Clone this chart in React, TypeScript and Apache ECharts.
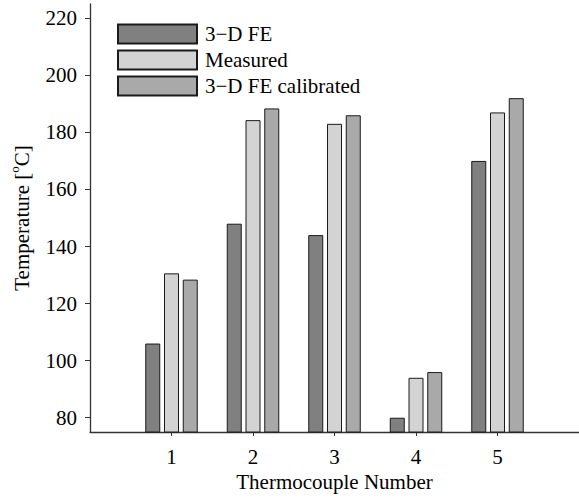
import React, { useEffect, useRef } from "react";
import * as echarts from "echarts";

const categories = [1, 2, 3, 4, 5];
const seriesNames = ["3\u2212D FE", "Measured", "3\u2212D FE calibrated"];
const fe3d = [106, 148, 144, 80, 170];
const measured = [130.6, 184.3, 183, 94, 187];
const calibrated = [128.4, 188.4, 186, 96, 192];
const yTicks = [80, 100, 120, 140, 160, 180, 200, 220];
const colors = ["#808080", "#d3d3d3", "#a9a9a9"];

const FONT = "Liberation Serif";
const FS = 21;

export default function App() {
  const ref = useRef<HTMLDivElement>(null);
  useEffect(() => {
    if (!ref.current) return;
    const chart = echarts.init(ref.current, null, { renderer: "svg" });
    const values = [fe3d, measured, calibrated];
    chart.setOption({
      animation: false,
      backgroundColor: "#ffffff",
      textStyle: { fontFamily: FONT },
      grid: { left: 89.5, top: 4, width: 495, height: 428 },
      legend: {
        orient: "vertical",
        left: 117,
        top: 23.5,
        padding: 0,
        itemWidth: 79,
        itemHeight: 19,
        itemGap: 5,
        icon: "rect",
        textStyle: { fontFamily: FONT, fontSize: FS, color: "#000", padding: [0, 0, 0, 3] },
        data: seriesNames,
      },
      xAxis: {
        type: "value",
        min: 0,
        max: 6,
        interval: 1,
        name: "Thermocouple Number",
        nameLocation: "middle",
        nameGap: 37,
        nameTextStyle: { fontFamily: FONT, fontSize: FS, color: "#000" },
        axisLine: { show: true, onZero: false, lineStyle: { color: "#333", width: 1.3 } },
        axisTick: { show: true, length: 4, customValues: categories, lineStyle: { color: "#333" } },
        axisLabel: { customValues: categories, margin: 14, fontFamily: FONT, fontSize: FS, color: "#000" },
        splitLine: { show: false },
      },
      yAxis: {
        type: "value",
        min: 75,
        max: 225,
        name: "{n|Temperature [}{s|o}{n|C]}",
        nameLocation: "middle",
        nameGap: 58,
        nameTextStyle: {
          fontFamily: FONT,
          fontSize: FS,
          color: "#000",
          rich: {
            n: { fontFamily: FONT, fontSize: FS, color: "#000", lineHeight: 24, verticalAlign: "bottom" },
            s: { fontFamily: FONT, fontSize: 13, color: "#000", lineHeight: 24, verticalAlign: "top" },
          },
        },
        axisLine: { show: true, onZero: false, lineStyle: { color: "#333", width: 1.3 } },
        axisTick: { show: true, length: 5, customValues: yTicks, lineStyle: { color: "#333" } },
        axisLabel: { customValues: yTicks, margin: 13, fontFamily: FONT, fontSize: FS, color: "#000" },
        splitLine: { show: false },
      },
      series: seriesNames.map((name, i) => ({
        name,
        type: "bar",
        barWidth: 15,
        barGap: "25%",
        data: categories.map((c, j) => [c, values[i][j]]),
        itemStyle: { color: colors[i], borderColor: "#1a1a1a", borderWidth: 1 },
      })),
    });
    return () => chart.dispose();
  }, []);
  return (
    <div
      ref={ref}
      style={{ position: "absolute", left: 0, top: 0, width: 579, height: 499 }}
    />
  );
}
